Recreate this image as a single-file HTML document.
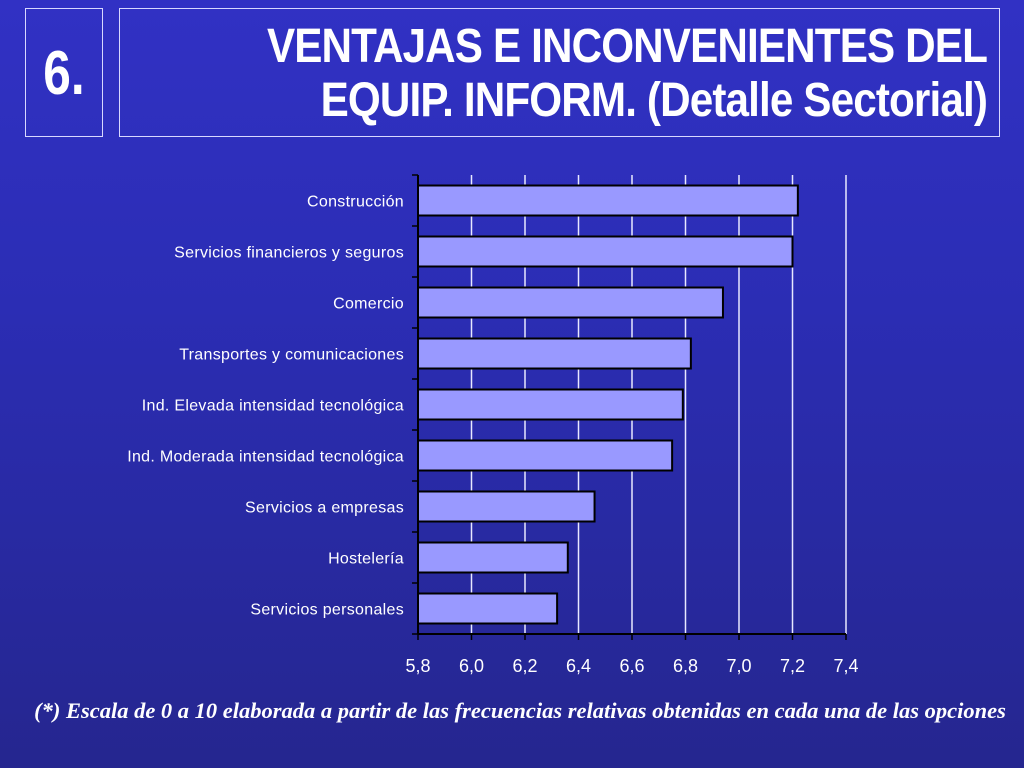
<!DOCTYPE html>
<html><head><meta charset="utf-8"><style>
body{margin:0;width:1024px;height:768px;overflow:hidden;font-family:"Liberation Sans",sans-serif;}
#bg{position:absolute;left:0;top:0;width:1024px;height:768px;background:linear-gradient(180deg,#3131c4 0%,#2b2db4 40%,#25268f 100%);}
.box{position:absolute;border:1.5px solid #d8d8ff;}
</style></head><body>
<div id="bg"></div>
<div class="box" style="left:25px;top:8px;width:76px;height:127px;"></div>
<div style="position:absolute;left:25px;top:38px;width:78px;text-align:center;color:#fff;font-weight:bold;font-size:62px;line-height:72px;transform:scaleX(0.8);">6.</div>
<div class="box" style="left:119px;top:8px;width:879px;height:127px;"></div>
<div style="position:absolute;left:19px;top:20px;width:968px;text-align:right;color:#fff;font-weight:bold;font-size:48px;line-height:54px;letter-spacing:-1px;transform:scaleX(0.88);transform-origin:right;">VENTAJAS E INCONVENIENTES DEL<br>EQUIP. INFORM. (Detalle Sectorial)</div>
<svg id="chart" width="1024" height="768" style="position:absolute;left:0;top:0"></svg>
<div style="position:absolute;left:0;top:698px;width:1040px;text-align:center;color:#fff;font-family:'Liberation Serif',serif;font-style:italic;font-weight:bold;font-size:22.5px;white-space:nowrap;">(*) Escala de 0 a 10 elaborada a partir de las frecuencias relativas obtenidas en cada una de las opciones</div>
<script>
const categories=["Construcción","Servicios financieros y seguros","Comercio","Transportes y comunicaciones","Ind. Elevada intensidad tecnológica","Ind. Moderada intensidad tecnológica","Servicios a empresas","Hostelería","Servicios personales"];
const values=[7.22,7.20,6.94,6.82,6.79,6.75,6.46,6.36,6.32];
const ticks=[5.8,6.0,6.2,6.4,6.6,6.8,7.0,7.2,7.4];
const tickLabels=["5,8","6,0","6,2","6,4","6,6","6,8","7,0","7,2","7,4"];
const svg=document.getElementById('chart');
const NS='http://www.w3.org/2000/svg';
const x0=418,x1=846,yTop=175,yBot=634,xmin=5.8,xmax=7.4;
const X=v=>x0+(v-xmin)/(xmax-xmin)*(x1-x0);
const band=(yBot-yTop)/categories.length;
function mk(t,a){const e=document.createElementNS(NS,t);for(const k in a)e.setAttribute(k,a[k]);svg.appendChild(e);return e;}
ticks.forEach((t,i)=>{
  if(i>0){const g=mk('line',{x1:X(t),x2:X(t),y1:yTop,y2:yBot,stroke:'#e8e8ff','stroke-width':1.5});
  
  }
  const tk=mk('line',{x1:X(t),x2:X(t),y1:yBot,y2:yBot+6,stroke:'#000','stroke-width':1.5});
  
  
  const tl=mk('text',{x:X(t),y:yBot+38,'text-anchor':'middle',fill:'#fff','font-size':18,'font-family':'Liberation Sans, sans-serif'});
  tl.textContent=tickLabels[i];
  
  
});
categories.forEach((c,i)=>{
  const yc=yTop+band*(i+0.5);
  const r=mk('rect',{x:x0,y:yc-15,width:X(values[i])-x0,height:30,fill:'#9999ff',stroke:'#000','stroke-width':2});
  
  
  const t=mk('text',{x:x0-14,y:yc+6,'text-anchor':'end',fill:'#fff','font-size':16,'letter-spacing':'0.3','font-family':'Liberation Sans, sans-serif'});
  t.textContent=c;
  
  
});
for(let i=0;i<=categories.length;i++){
  const y=yTop+band*i;
  const tk=mk('line',{x1:x0-6,x2:x0,y1:y,y2:y,stroke:'#000','stroke-width':1.5});
  
  
}
const ya=mk('line',{x1:x0,x2:x0,y1:yTop,y2:yBot,stroke:'#000','stroke-width':2});


const xa=mk('line',{x1:x0,x2:x1,y1:yBot,y2:yBot,stroke:'#000','stroke-width':2});


</script>
</body></html>
